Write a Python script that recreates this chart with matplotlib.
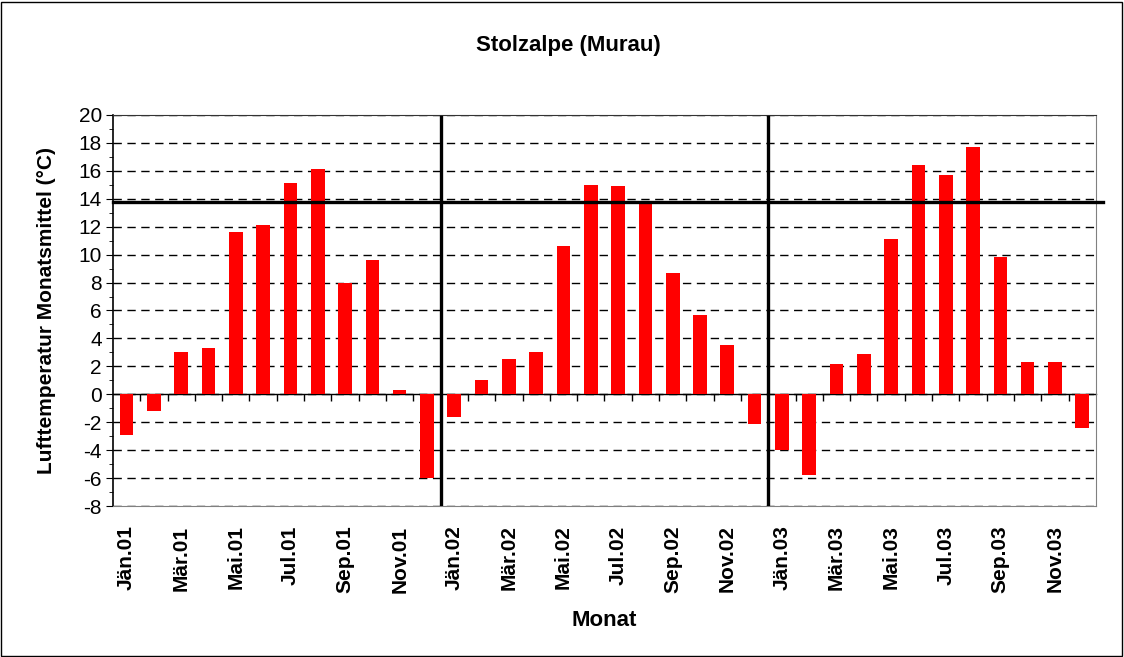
import matplotlib.pyplot as plt
from matplotlib.patches import Rectangle

plt.rcParams['font.family'] = ['Liberation Sans', 'DejaVu Sans']
plt.rcParams['axes.unicode_minus'] = False

months = ["Jän", "Feb", "Mär", "Apr", "Mai", "Jun", "Jul", "Aug", "Sep", "Okt", "Nov", "Dez"]
years = ["01", "02", "03"]
temp_2001 = [-2.9, -1.2, 3.0, 3.3, 11.6, 12.1, 15.1, 16.1, 8.0, 9.6, 0.3, -6.0]
temp_2002 = [-1.6, 1.0, 2.5, 3.0, 10.6, 15.0, 14.9, 13.8, 8.7, 5.7, 3.5, -2.1]
temp_2003 = [-4.0, -5.8, 2.2, 2.9, 11.1, 16.4, 15.7, 17.7, 9.8, 2.3, 2.3, -2.4]
mean_line = 13.8

labels = [m + "." + y for y in years for m in months]
values = temp_2001 + temp_2002 + temp_2003
x = list(range(len(values)))

fig = plt.figure(figsize=(11.24, 6.57), dpi=100)
ax = fig.add_axes([0.1005, 0.2298, 0.8745, 0.5952])

ax.bar(x, values, width=0.5, color="#ff0000", zorder=3)

ax.set_ylim(-8, 20)
ax.set_xlim(-0.5, len(values) - 0.5)
ax.set_yticks(range(-8, 21, 2))
ax.set_yticks(range(-8, 21, 1), minor=True)
ax.tick_params(axis="y", which="major", labelsize=15, length=5, pad=3)
ax.tick_params(axis="y", which="minor", length=3)
ax.grid(axis="y", color="black", linestyle=(0, (6, 4)), linewidth=1, zorder=1)

ax.set_xticks(x[::2])
ax.set_xticklabels(labels[::2], rotation=90, fontweight="bold", fontsize=15)
ax.tick_params(axis="x", length=0, pad=14)

# zero axis with category ticks
zero = ax.secondary_xaxis(8 / 28)
zero.set_xticks([i + 0.5 for i in x[:-1]])
zero.set_xticklabels([])
zero.tick_params(axis="x", direction="out", length=5, width=1)
zero.spines["bottom"].set_linewidth(1)
zero.spines["bottom"].set_color("black")

ax.spines["right"].set_color("gray")
ax.spines["bottom"].set_color("gray")
ax.spines["top"].set_color("#333333")
ax.spines["left"].set_linewidth(1.2)

ax.axhline(mean_line, xmin=0, xmax=1.007, color="black", linewidth=2.4, zorder=4, clip_on=False)
for b in (11.5, 23.5):
    ax.axvline(b, ymax=0.995, color="black", linewidth=2.4, zorder=4)

fig.text(0.5053, 0.9315, "Stolzalpe (Murau)", fontweight="bold", fontsize=16,
         ha="center", va="center")
ax.set_ylabel("Lufttemperatur Monatsmittel (°C)", fontweight="bold", fontsize=15, labelpad=16)
ax.set_xlabel("Monat", fontweight="bold", fontsize=16, labelpad=12)

fig.patches.append(Rectangle((0.001, 0.002), 0.997, 0.995, transform=fig.transFigure,
                             fill=False, edgecolor="black", linewidth=1))

fig.savefig("out.png", dpi=100)
